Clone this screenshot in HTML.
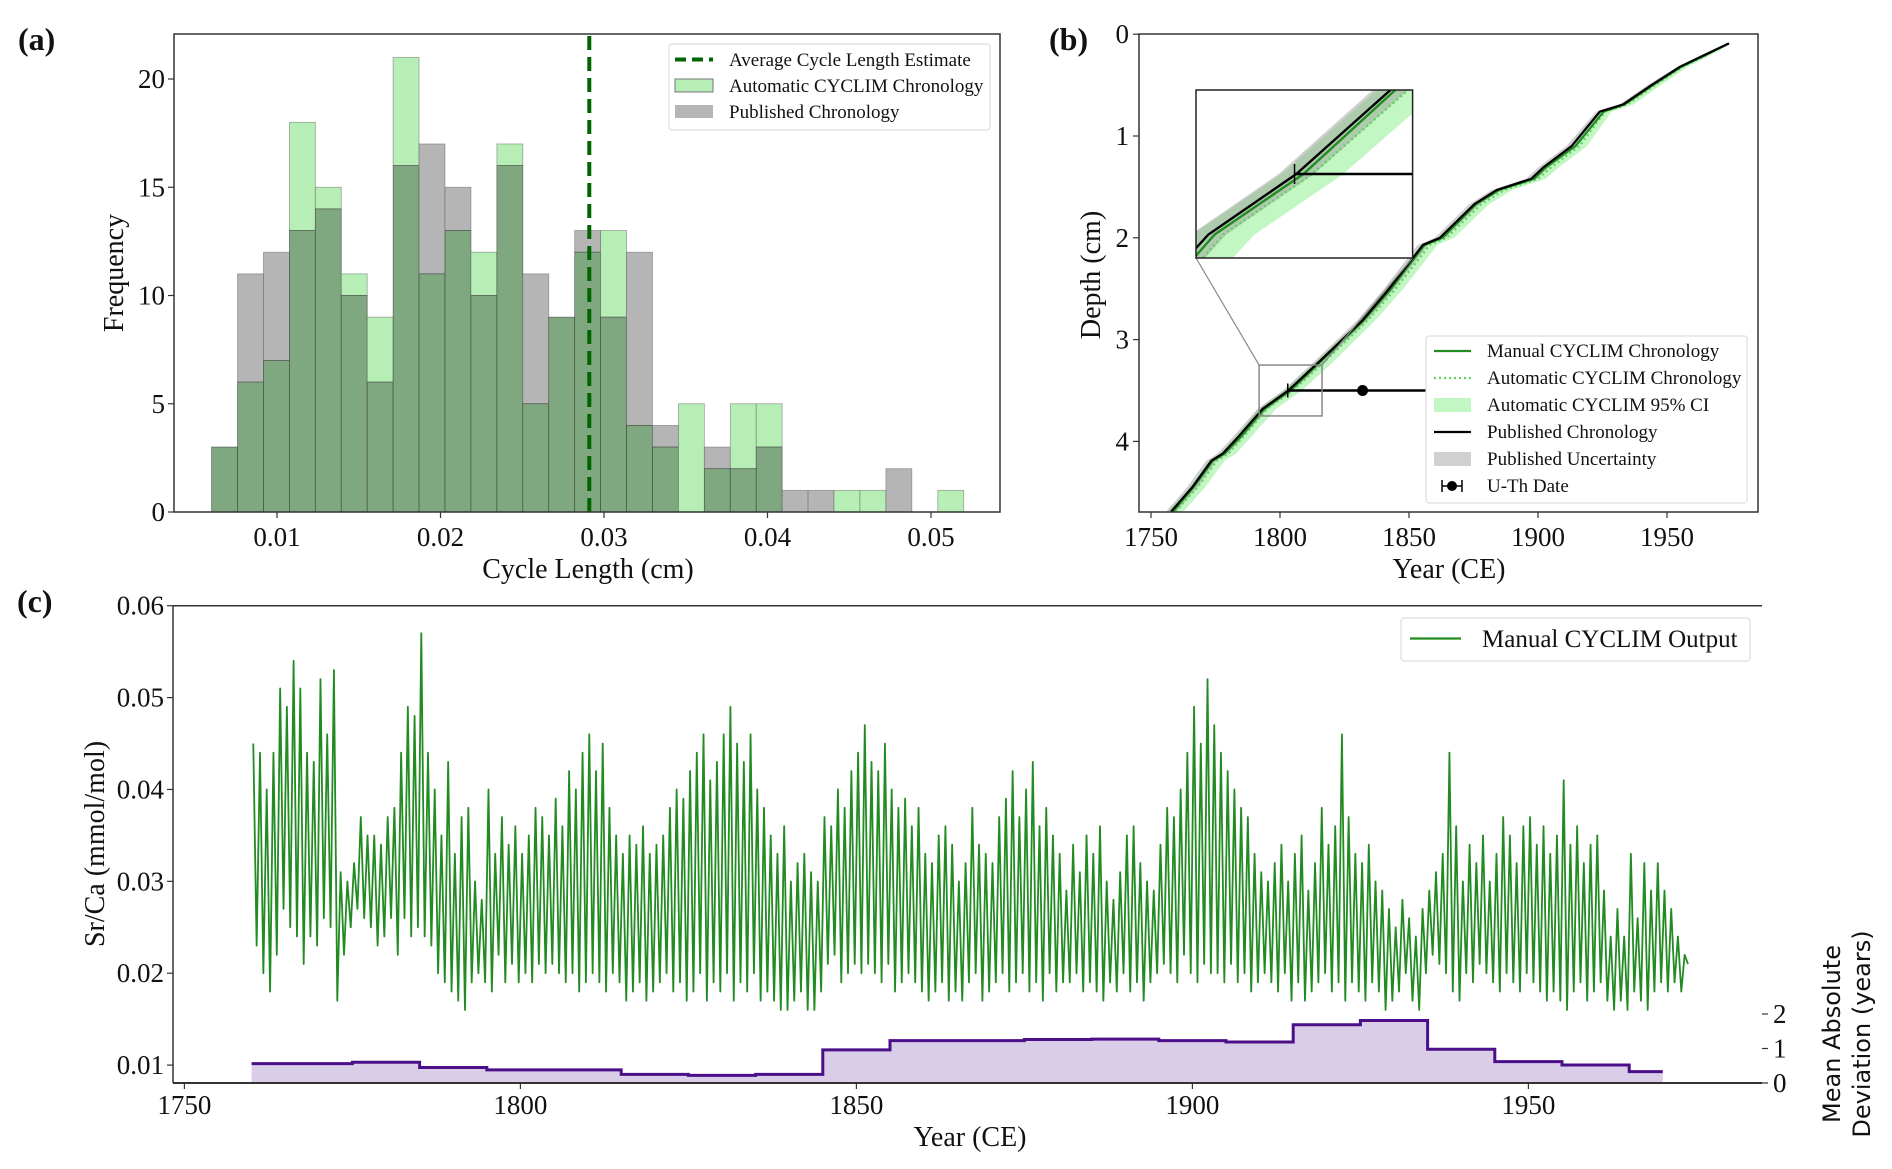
<!DOCTYPE html>
<html><head><meta charset="utf-8">
<style>
html,body{margin:0;padding:0;background:#fff;}
svg{display:block;font-family:"Liberation Serif",serif;}
</style></head>
<body>
<svg id="fig" width="1892" height="1169" viewBox="0 0 1892 1169" xmlns="http://www.w3.org/2000/svg">
<defs>
<clipPath id="clipB"><rect x="1139" y="34" width="619" height="478"/></clipPath>
<clipPath id="clipIn"><rect x="1196" y="90" width="216.6" height="168"/></clipPath>
<clipPath id="clipC"><rect x="173" y="605" width="1589" height="478"/></clipPath>
</defs>
<g id="pa"></g>
<g id="pb"></g>
<g id="pc"></g>
</svg>
<script>
// ---------- Panel (a) data ----------
const binStart = 0.006;
const binEnd = 0.052;
const autoCounts = [3,6,7,18,15,11,9,21,11,13,12,17,5,9,12,13,4,3,5,2,5,5,0,0,1,1,0,0,1];
const pubCounts  = [3,11,12,13,14,10,6,16,17,15,10,16,11,9,13,9,12,4,0,3,2,3,1,1,0,0,2,0,0];
const avgCycle = 0.0291;
const aXTicks = [0.01,0.02,0.03,0.04,0.05];
const aYTicks = [0,5,10,15,20];
// ---------- Panel (b) data ----------
const depthPts  = [4.69,4.45,4.19,4.12,3.95,3.68,3.5,3.21,2.81,2.51,2.07,2.0,1.67,1.53,1.42,1.31,1.1,0.76,0.69,0.5,0.32,0.21,0.09];
const pubYears  = [1757.8,1766,1773.4,1777.8,1784,1793.3,1803.2,1815.5,1832,1842,1855.4,1862,1875.3,1884,1897.4,1902,1913,1924,1933,1944,1955,1964,1974];
const manYears  = [1758.5,1766.5,1774,1778.5,1785,1794,1804,1816,1832.5,1842.8,1856,1863,1876,1885,1898.5,1903,1914.5,1925.5,1933.5,1944.5,1955.5,1964.5,1974];
const autoYears = [1759.5,1768,1775.5,1780,1786,1795,1805,1817.5,1834,1844.5,1858,1864.5,1878,1887,1900,1905,1916,1926,1934.5,1945.5,1956,1965,1974];
const ciHalf    = [3,3,3,3,3,3.5,3.5,3.5,3,3,3,3,3,3,3,3,3,2.5,2.5,2,2,1.5,1];
const pubUnc    = [2,2,2,2,2,2,2,2,2,2,2,2,2,2,2,2,2,1.5,1.5,1.5,1,1,0.5];
const uthYear = 1832, uthDepth = 3.5, uthLo = 1803, uthHi = 1861;
const bXTicks = [1750,1800,1850,1900,1950];
const bYTicks = [0,1,2,3,4];
// ---------- Panel (c) data ----------
const srcaStartYear = 1760;
const srcaPeaks = [45,44,40,44,51,49,54,51,44,43,52,46,53,31,30,32,37,35,35,34,37,38,44,49,48,57,44,40,35,43,33,37,38,30,28,40,33,37,34,36,33,35,38,37,35,39,36,42,40,44,46,42,45,38,35,
33,35,34,36,33,34,35,38,40,39,42,44,46,41,43,46,49,45,43,46,40,38,35,33,36,30,32,33,31,30,
37,36,40,38,42,44,47,43,42,45,40,38,39,36,38,33,32,35,36,34,30,32,38,34,33,32,37,39,42,37,40,43,36,38,35,
33,29,34,31,35,33,36,30,28,31,35,36,32,30,29,34,38,37,40,44,49,45,52,47,44,42,40,38,37,33,31,30,32,34,30,
33,35,29,32,38,34,36,46,37,33,32,34,30,29,27,25,28,26,24,27,29,31,33,44,36,30,34,32,35,30,
33,37,35,32,36,37,34,36,33,35,41,34,36,32,34,35,29,24,27,24,33,26,32,29,32,29,27,24,22];
const srcaTroughs = [23,20,18,22,27,25,24,21,24,23,26,25,17,22,25,27,26,25,23,24,26,22,26,24,25,24,23,20,19,18,17,16,19,20,19,18,22,19,21,19,20,19,21,20,21,20,19,20,18,19,20,19,18,20,19,
17,18,19,17,18,19,20,18,19,17,18,20,17,19,18,20,17,19,18,20,17,18,17,16,16,17,18,16,16,18,
21,22,19,20,21,20,21,20,19,21,18,19,20,19,18,17,18,19,17,18,17,19,20,17,18,19,20,18,19,20,18,19,17,20,18,
19,19,20,18,19,18,17,19,18,20,18,19,17,19,20,21,20,19,22,20,19,21,20,20,19,21,19,20,18,19,20,19,18,20,17,
19,17,18,19,20,18,19,17,19,18,17,19,18,16,17,18,20,17,16,20,22,21,20,18,17,20,19,21,20,19,
18,20,19,18,20,19,18,17,18,17,16,18,19,17,18,19,17,16,17,16,18,17,16,18,19,18,19,18,21];
const madStarts = [1760,1775,1785,1795,1815,1825,1835,1845,1855,1875,1885,1895,1905,1915,1925,1935,1945,1955,1965];
const madEnd = 1970;
const madValues = [0.56,0.6,0.45,0.38,0.25,0.22,0.25,0.96,1.23,1.26,1.27,1.23,1.19,1.69,1.81,0.98,0.62,0.52,0.33];
const cXTicks = [1750,1800,1850,1900,1950];
const cYTicks = [0.01,0.02,0.03,0.04,0.05,0.06];
const cYLabels = ["0.01","0.02","0.03","0.04","0.05","0.06"];
const cRTicks = [0,1,2];

const NS = "http://www.w3.org/2000/svg";
function mk(parent, tag, attrs, text){
  const e = document.createElementNS(NS, tag);
  for (const k in attrs) e.setAttribute(k, attrs[k]);
  if (text !== undefined) e.textContent = text;
  parent.appendChild(e);
  return e;
}
const pa = document.getElementById('pa');
const pb = document.getElementById('pb');
const pc = document.getElementById('pc');

// ===== Panel A =====
const XA = v => 277 + (v - 0.01) * 16350;
const YA = c => 512 - c * 21.65;
const binW = (binEnd - binStart) / autoCounts.length;
for (let i = 0; i < autoCounts.length; i++) {
  const x0 = XA(binStart + i*binW), x1 = XA(binStart + (i+1)*binW);
  const a = autoCounts[i], p = pubCounts[i] || 0;
  const lo = Math.min(a,p), hi = Math.max(a,p);
  if (hi > lo) {
    const r = mk(pa,'rect',{x:x0,y:YA(hi),width:x1-x0,height:YA(lo)-YA(hi),fill:(a>p?'#b6eeb6':'#b5b5b5'),stroke:'#555',"stroke-width":0.8,"stroke-opacity":0.5});
    
    
  }
  if (lo > 0) {
    const r = mk(pa,'rect',{x:x0,y:YA(lo),width:x1-x0,height:YA(0)-YA(lo),fill:'#80a880',stroke:'#333',"stroke-width":0.8,"stroke-opacity":0.6});
    
    
  }
}
const dl = mk(pa,'line',{x1:XA(avgCycle),x2:XA(avgCycle),y1:36,y2:512,stroke:'#006400',"stroke-width":4,"stroke-dasharray":"14,7"});


mk(pa,'rect',{x:174,y:34,width:826,height:478,fill:'none',stroke:'#333',"stroke-width":1.5});
aXTicks.forEach(v=>{
  mk(pa,'line',{x1:XA(v),x2:XA(v),y1:512,y2:518,stroke:'#333',"stroke-width":1.2});
  const t = mk(pa,'text',{x:XA(v),y:546,"text-anchor":"middle","font-size":27,fill:'#111'}, v.toFixed(2));
  
  
});
aYTicks.forEach(v=>{
  mk(pa,'line',{x1:168,x2:174,y1:YA(v),y2:YA(v),stroke:'#333',"stroke-width":1.2});
  const t = mk(pa,'text',{x:165,y:YA(v)+9,"text-anchor":"end","font-size":27,fill:'#111'}, String(v));
  
  
});
let t;
t = mk(pa,'text',{x:588,y:578,"text-anchor":"middle","font-size":28,fill:'#111'},'Cycle Length (cm)');
 
t = mk(pa,'text',{x:0,y:0,transform:'translate(123,273) rotate(-90)',"text-anchor":"middle","font-size":28,fill:'#111'},'Frequency');
 
t = mk(pa,'text',{x:18,y:50,"font-size":32,"font-weight":"bold",fill:'#111'},'(a)');
 
// legend a
const lga = mk(pa,'g',{});
 
mk(lga,'rect',{x:669,y:44,width:321,height:86,rx:3,fill:'#fff',stroke:'#ddd',"stroke-width":1.2});
mk(lga,'line',{x1:675,x2:713,y1:59.5,y2:59.5,stroke:'#006400',"stroke-width":4,"stroke-dasharray":"11,6"});
mk(lga,'rect',{x:675,y:79,width:38,height:13,fill:'#b6eeb6',stroke:'#777',"stroke-width":1});
mk(lga,'rect',{x:675,y:105,width:38,height:13,fill:'#b5b5b5'});
[['Average Cycle Length Estimate',66],['Automatic CYCLIM Chronology',92],['Published Chronology',118]].forEach(d=>{
  const e = mk(lga,'text',{x:729,y:d[1],"font-size":19,fill:'#111'},d[0]);
   
});

// ===== Panel B =====
const XB = y => 1151 + (y - 1750) * 2.58;
const YB = d => 34.2 + d * 101.8;
const XI = y => 1196 + (y - 1791.9) / 24.4 * 216.6;
const YI = d => 90 + (d - 3.25) / 0.5 * 168;
function band(g, X, Y, center, half, fill, name){
  let s = '';
  depthPts.forEach((d,i)=>{ s += (i?'L':'M') + X(center[i]-half[i]) + ',' + Y(d); });
  for (let i=depthPts.length-1;i>=0;i--) s += 'L' + X(center[i]+half[i]) + ',' + Y(depthPts[i]);
  const p = mk(g,'path',{d:s+'Z',fill:fill});
   
}
function curve(g, X, Y, yrs, attrs, name){
  const pts = depthPts.map((d,i)=>X(yrs[i])+','+Y(d)).join(' ');
  const a = Object.assign({points:pts,fill:'none'}, attrs);
  const p = mk(g,'polyline',a);
   
}
function drawChron(g, X, Y, w){
  band(g,X,Y,autoYears,ciHalf,'rgba(144,238,144,0.55)','auto-ci-band');
  band(g,X,Y,pubYears,pubUnc,'rgba(150,150,150,0.45)','published-uncertainty-band');
  curve(g,X,Y,autoYears,{stroke:'#5fd35f',"stroke-width":w,"stroke-dasharray":"2,3"},'auto-chronology-line');
  curve(g,X,Y,manYears,{stroke:'#228b22',"stroke-width":w},'manual-chronology-line');
  curve(g,X,Y,pubYears,{stroke:'#000',"stroke-width":w},'published-chronology-line');
}
const gb = mk(pb,'g',{"clip-path":'url(#clipB)'});
drawChron(gb, XB, YB, 2.2);
// U-Th
const ut = mk(pb,'g',{});
 
mk(ut,'line',{x1:XB(uthLo),x2:XB(uthHi),y1:YB(uthDepth),y2:YB(uthDepth),stroke:'#000',"stroke-width":2.5});
mk(ut,'line',{x1:XB(uthLo),x2:XB(uthLo),y1:YB(uthDepth)-7,y2:YB(uthDepth)+7,stroke:'#000',"stroke-width":1.5});
mk(ut,'line',{x1:XB(uthHi),x2:XB(uthHi),y1:YB(uthDepth)-7,y2:YB(uthDepth)+7,stroke:'#000',"stroke-width":1.5});
mk(ut,'circle',{cx:XB(uthYear),cy:YB(uthDepth),r:5.5,fill:'#000'});
// zoom rect & connectors
mk(pb,'rect',{x:XB(1791.9),y:YB(3.25),width:XB(1816.3)-XB(1791.9),height:YB(3.75)-YB(3.25),fill:'none',stroke:'#888',"stroke-width":1.5});
mk(pb,'line',{x1:1196,y1:258,x2:XB(1791.9),y2:YB(3.25),stroke:'#888',"stroke-width":1.2});
mk(pb,'line',{x1:1412.6,y1:258,x2:XB(1816.3),y2:YB(3.25),stroke:'#888',"stroke-width":1.2});
// inset
const ins = mk(pb,'g',{});
 
mk(ins,'rect',{x:1196,y:90,width:216.6,height:168,fill:'#fff'});
const gi = mk(ins,'g',{"clip-path":'url(#clipIn)'});
drawChron(gi, XI, YI, 2.4);
mk(gi,'line',{x1:XI(uthLo),x2:XI(uthHi),y1:YI(uthDepth),y2:YI(uthDepth),stroke:'#000',"stroke-width":2.5});
mk(gi,'line',{x1:XI(uthLo),x2:XI(uthLo),y1:YI(uthDepth)-10,y2:YI(uthDepth)+10,stroke:'#000',"stroke-width":1.5});
mk(ins,'rect',{x:1196,y:90,width:216.6,height:168,fill:'none',stroke:'#222',"stroke-width":1.5});
// axes b
mk(pb,'rect',{x:1139,y:34,width:619,height:478,fill:'none',stroke:'#333',"stroke-width":1.5});
bXTicks.forEach(v=>{
  mk(pb,'line',{x1:XB(v),x2:XB(v),y1:512,y2:518,stroke:'#333',"stroke-width":1.2});
  const e = mk(pb,'text',{x:XB(v),y:546,"text-anchor":"middle","font-size":27,fill:'#111'},String(v));
   
});
bYTicks.forEach(v=>{
  mk(pb,'line',{x1:1133,x2:1139,y1:YB(v),y2:YB(v),stroke:'#333',"stroke-width":1.2});
  const e = mk(pb,'text',{x:1129,y:YB(v)+9,"text-anchor":"end","font-size":27,fill:'#111'},String(v));
   
});
t = mk(pb,'text',{x:1449,y:578,"text-anchor":"middle","font-size":28,fill:'#111'},'Year (CE)');
 
t = mk(pb,'text',{x:0,y:0,transform:'translate(1100,275) rotate(-90)',"text-anchor":"middle","font-size":28,fill:'#111'},'Depth (cm)');
 
t = mk(pb,'text',{x:1049,y:50,"font-size":32,"font-weight":"bold",fill:'#111'},'(b)');
 
const lgb = mk(pb,'g',{});
 
mk(lgb,'rect',{x:1426,y:336,width:321,height:167,rx:3,fill:'#fff',stroke:'#ddd',"stroke-width":1.2});
mk(lgb,'line',{x1:1434,x2:1471,y1:351,y2:351,stroke:'#228b22',"stroke-width":2.2});
mk(lgb,'line',{x1:1434,x2:1471,y1:378,y2:378,stroke:'#5fd35f',"stroke-width":2.2,"stroke-dasharray":"2,3"});
mk(lgb,'rect',{x:1434,y:398,width:37,height:14,fill:'rgba(144,238,144,0.55)'});
mk(lgb,'line',{x1:1434,x2:1471,y1:432,y2:432,stroke:'#000',"stroke-width":2.2});
mk(lgb,'rect',{x:1434,y:452,width:37,height:14,fill:'rgba(150,150,150,0.45)'});
mk(lgb,'line',{x1:1442,x2:1462,y1:486,y2:486,stroke:'#000',"stroke-width":1.5});
mk(lgb,'line',{x1:1442,x2:1442,y1:480,y2:492,stroke:'#000',"stroke-width":1.5});
mk(lgb,'line',{x1:1462,x2:1462,y1:480,y2:492,stroke:'#000',"stroke-width":1.5});
mk(lgb,'circle',{cx:1452,cy:486,r:5,fill:'#000'});
[['Manual CYCLIM Chronology',351],['Automatic CYCLIM Chronology',378],['Automatic CYCLIM 95% CI',405],['Published Chronology',432],['Published Uncertainty',459],['U-Th Date',486]].forEach(d=>{
  const e = mk(lgb,'text',{x:1487,y:d[1]+6,"font-size":19,fill:'#111'},d[0]);
   
});

// ===== Panel C =====
const XC = y => 184.4 + (y - 1750) * 6.72;
const YC = v => 605.7 + (0.06 - v) * 9188;
const YR = m => 1083 - m * 34.5;
// MAD step fill + line
let ms = 'M' + XC(madStarts[0]) + ',' + YR(0);
let ml = '';
madStarts.forEach((s,i)=>{
  const e = (i+1 < madStarts.length) ? madStarts[i+1] : madEnd;
  ms += 'L' + XC(s) + ',' + YR(madValues[i]) + 'L' + XC(e) + ',' + YR(madValues[i]);
  ml += (i?'L':'M') + XC(s) + ',' + YR(madValues[i]) + 'L' + XC(e) + ',' + YR(madValues[i]);
});
ms += 'L' + XC(madEnd) + ',' + YR(0) + 'Z';
const mf = mk(pc,'path',{d:ms,fill:'#dacde8'});
 
const mline = mk(pc,'path',{d:ml,fill:'none',stroke:'#4b0f8a',"stroke-width":3});
 
// Sr/Ca
let sp = [];
for (let i=0;i<srcaPeaks.length;i++){
  sp.push(XC(srcaStartYear+i+0.25)+','+YC(srcaPeaks[i]/1000));
  sp.push(XC(srcaStartYear+i+0.75)+','+YC(srcaTroughs[i]/1000));
}
const gl = mk(pc,'polyline',{points:sp.join(' '),fill:'none',stroke:'#228b22',"stroke-width":1.8,"stroke-linejoin":"round","clip-path":'url(#clipC)'});
 
// axes c
mk(pc,'line',{x1:173,x2:1762,y1:605.7,y2:605.7,stroke:'#333',"stroke-width":1.5});
mk(pc,'line',{x1:173,x2:173,y1:605.7,y2:1083,stroke:'#333',"stroke-width":1.5});
mk(pc,'line',{x1:173,x2:1762,y1:1083,y2:1083,stroke:'#333',"stroke-width":2});
cXTicks.forEach(v=>{
  mk(pc,'line',{x1:XC(v),x2:XC(v),y1:1083,y2:1089,stroke:'#333',"stroke-width":1.2});
  const e = mk(pc,'text',{x:XC(v),y:1114,"text-anchor":"middle","font-size":27,fill:'#111'},String(v));
   
});
cYTicks.forEach((v,i)=>{
  mk(pc,'line',{x1:167,x2:173,y1:YC(v),y2:YC(v),stroke:'#333',"stroke-width":1.2});
  const e = mk(pc,'text',{x:164,y:YC(v)+9,"text-anchor":"end","font-size":27,fill:'#111'},cYLabels[i]);
   
});
cRTicks.forEach(v=>{
  mk(pc,'line',{x1:1762,x2:1768,y1:YR(v),y2:YR(v),stroke:'#333',"stroke-width":1.2});
  const e = mk(pc,'text',{x:1773,y:YR(v)+9,"font-size":27,fill:'#111'},String(v));
   
});
t = mk(pc,'text',{x:970,y:1146,"text-anchor":"middle","font-size":28,fill:'#111'},'Year (CE)');
 
t = mk(pc,'text',{x:0,y:0,transform:'translate(104,844) rotate(-90)',"text-anchor":"middle","font-size":28,fill:'#111'},'Sr/Ca (mmol/mol)');
 
t = mk(pc,'text',{x:0,y:0,transform:'translate(1840,1034) rotate(-90)',"text-anchor":"middle","font-size":24,fill:'#111',"font-family":'"DejaVu Sans",sans-serif'},'Mean Absolute');
 
t = mk(pc,'text',{x:0,y:0,transform:'translate(1870,1034) rotate(-90)',"text-anchor":"middle","font-size":24,fill:'#111',"font-family":'"DejaVu Sans",sans-serif'},'Deviation (years)');
 
t = mk(pc,'text',{x:17,y:612,"font-size":32,"font-weight":"bold",fill:'#111'},'(c)');
 
const lgc = mk(pc,'g',{});
 
mk(lgc,'rect',{x:1401,y:618,width:349,height:43,rx:3,fill:'#fff',stroke:'#ddd',"stroke-width":1.2});
mk(lgc,'line',{x1:1410,x2:1461,y1:638.5,y2:638.5,stroke:'#228b22',"stroke-width":2.2});
t = mk(lgc,'text',{x:1482,y:647,"font-size":25,fill:'#111'},'Manual CYCLIM Output');
 
</script>
</body></html>
